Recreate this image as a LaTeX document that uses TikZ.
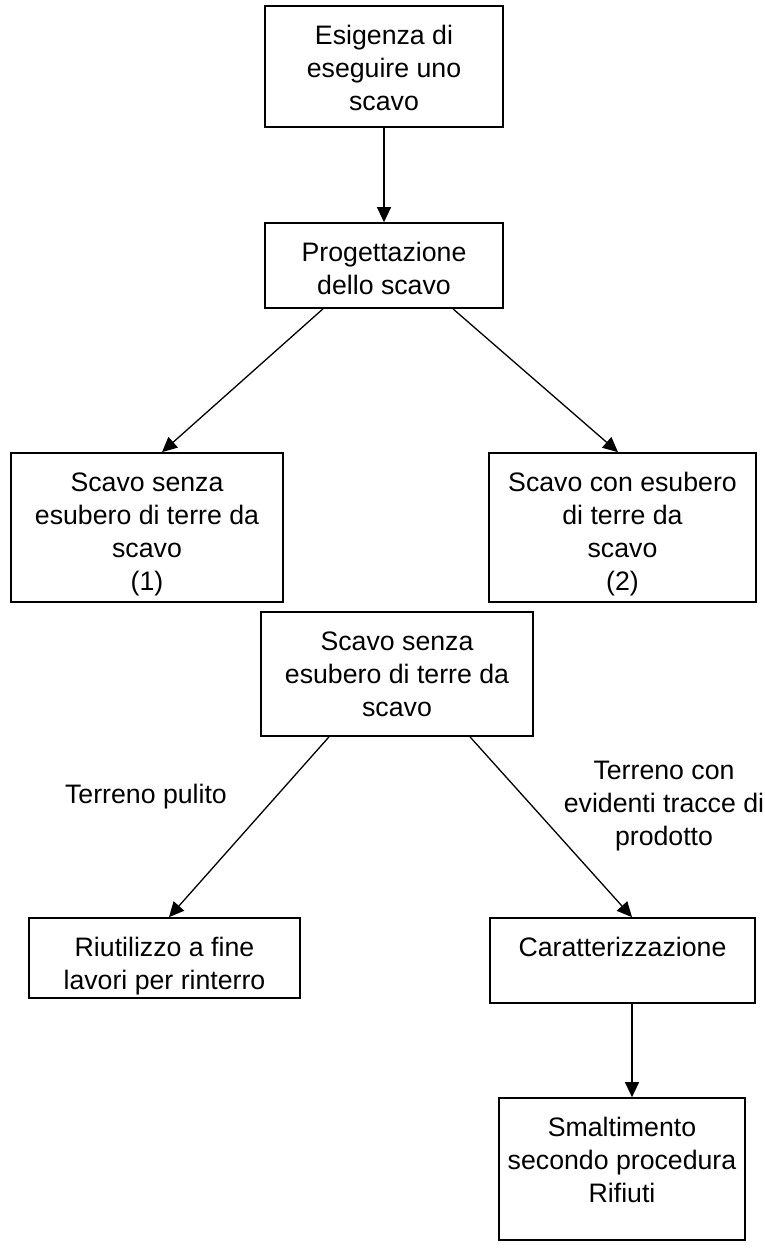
\documentclass[tikz,border=0pt]{standalone}
\usepackage{fontspec}
\setmainfont{Liberation Sans}
\usetikzlibrary{arrows.meta,calc}
\begin{document}
\begin{tikzpicture}[x=1pt,y=-1pt,
  box/.style={draw, line width=1.7pt, inner sep=0pt, rectangle},
  txt/.style={align=center, inner sep=0pt, font=\fontsize{26.7}{33}\selectfont},
  intxt/.style={txt, anchor=north, yshift=-20pt},
  arr/.style={line width=1.3pt, -{Triangle[length=15pt,width=14pt]}}]
\useasboundingbox (0,0) rectangle (765,1251);
% boxes
\node[box, minimum width=238pt, minimum height=121pt] (b1) at (384,66.5) {};
\node[box, minimum width=238pt, minimum height=85pt] (b2) at (384,265.5) {};
\node[box, minimum width=272pt, minimum height=149pt] (b3) at (147,527.5) {};
\node[box, minimum width=267pt, minimum height=149pt] (b4) at (622.5,527.5) {};
\node[box, minimum width=272pt, minimum height=124pt] (b5) at (397,674) {};
\node[box, minimum width=271pt, minimum height=80pt] (b6) at (164.5,958) {};
\node[box, minimum width=265pt, minimum height=85pt] (b7) at (622.5,960.5) {};
\node[box, minimum width=246pt, minimum height=142pt] (b8) at (622,1169) {};
% texts
\node[intxt] (t1) at (b1.north) {Esigenza di\\eseguire uno\\scavo};
\node[intxt] (t2) at (b2.north) {Progettazione\\dello scavo};
\node[intxt] (t3) at (b3.north) {Scavo senza\\esubero di terre da\\scavo\\(1)};
\node[intxt] (t4) at (b4.north) {Scavo con esubero\\di terre da\\scavo\\(2)};
\node[intxt] (t5) at (b5.north) {Scavo senza\\esubero di terre da\\scavo};
\node[intxt] (t6) at (b6.north) {Riutilizzo a fine\\lavori per rinterro};
\node[intxt] (t7) at (b7.north) {Caratterizzazione};
\node[intxt] (t8) at (b8.north) {Smaltimento\\secondo procedura\\Rifiuti};
% labels
\node[txt] (l1) at (146,797) {Terreno pulito};
\node[txt] (l2) at (664,806) {Terreno con\\evidenti tracce di\\prodotto};
% connectors
\draw[arr] (b1.south) -- (b2.north);
\draw[arr] ([xshift=-61pt]b2.south) -- ([xshift=15pt]b3.north);
\draw[arr] ([xshift=69pt]b2.south) -- ([xshift=-4.5pt]b4.north);
\draw[arr] ([xshift=-68pt]b5.south) -- ([xshift=4.5pt]b6.north);
\draw[arr] ([xshift=73pt]b5.south) -- ([xshift=9.5pt]b7.north);
\draw[arr] ([xshift=9.5pt]b7.south) -- ([xshift=10pt]b8.north);
\end{tikzpicture}
\end{document}
